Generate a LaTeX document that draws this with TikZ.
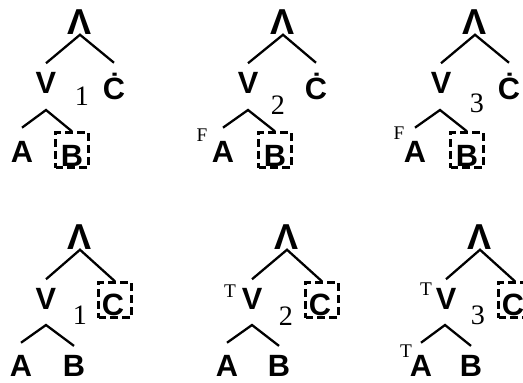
\documentclass[tikz,border=0pt]{standalone}
\usepackage{fontspec}
\setmainfont{Liberation Serif}
\newfontfamily\arialfont{Liberation Sans}
\begin{document}
\begin{tikzpicture}[
        x=0.02cm, y=-0.02cm,
        opnode/.style={
            font=\arialfont\bfseries\fontsize{20.5}{22}\selectfont,
            inner sep=0pt
        },
        letter/.style={
            font=\arialfont\bfseries\fontsize{17.5}{19}\selectfont,
            inner xsep=0pt,
            inner ysep=#1,
            text height=12.5pt,
            text depth=0pt
        },
        letter/.default=4.8pt,
        hole/.style={
            draw,
            line width=1.3pt,
            dash pattern=on 4.5pt off 2.3pt,
            minimum width=0.66cm,
            minimum height=0.7cm,
            inner sep=0pt
        },
        stepnum/.style={font=\fontsize{16}{18}\selectfont, inner sep=0pt},
        truth/.style={font=\fontsize{11}{12}\selectfont, inner sep=0pt},
        line/.style={draw, line width=1.3pt}
    ]
        \useasboundingbox (0,0) rectangle (523,382);

        \node[opnode] (and1) at (80,22) {Λ};
        \node[letter] (or1) at (46,83) {V};
        \node[letter=8.5pt] (c1) at (114,89) {Ċ};
        \node[stepnum] (n1) at (82,96) {1};
        \coordinate (j1) at (46,110);
        \node[letter=7.4pt] (a1) at (22,152) {A};
        \node[hole] (box1) at (72,150) {};
        \node[letter] (b1) at (72,156) {B};
        \draw[line] (or1.north) -- (and1.south) -- (c1.north);
        \draw[line] (a1.north) -- (j1) -- (box1.north);

        \node[opnode] (and2) at (283,22) {Λ};
        \node[letter] (or2) at (248,83) {V};
        \node[letter=8.5pt] (c2) at (316,89) {Ċ};
        \node[stepnum] (n2) at (278,105) {2};
        \node[truth] (f2) at (202,135) {F};
        \coordinate (j2) at (248,110);
        \node[letter=7.4pt] (a2) at (223,152) {A};
        \node[hole] (box2) at (275,150) {};
        \node[letter] (b2) at (275,156) {B};
        \draw[line] (or2.north) -- (and2.south) -- (c2.north);
        \draw[line] (a2.north) -- (j2) -- (box2.north);

        \node[opnode] (and3) at (475,22) {Λ};
        \node[letter] (or3) at (441,83) {V};
        \node[letter=8.5pt] (c3) at (509,89) {Ċ};
        \node[stepnum] (n3) at (477,103) {3};
        \node[truth] (f3) at (399,133) {F};
        \coordinate (j3) at (440,110);
        \node[letter=7.4pt] (a3) at (415,152) {A};
        \node[hole] (box3) at (467,150) {};
        \node[letter] (b3) at (467,156) {B};
        \draw[line] (or3.north) -- (and3.south) -- (c3.north);
        \draw[line] (a3.north) -- (j3) -- (box3.north);

        \node[opnode] (and4) at (80,237) {Λ};
        \node[letter] (or4) at (46,299) {V};
        \node[hole] (box4) at (115,300) {};
        \node[letter] (c4) at (113,305) {C};
        \node[stepnum] (n4) at (80,315) {1};
        \coordinate (j4) at (46,325);
        \node[letter=6.8pt] (a4) at (21,366) {A};
        \node[letter=5pt] (b4) at (74,366) {B};
        \draw[line] (or4.north) -- (and4.south) -- (box4.north);
        \draw[line] (a4.north) -- (j4) -- (b4.north);

        \node[opnode] (and5) at (287,237) {Λ};
        \node[truth] (t5) at (230,291) {T};
        \node[letter] (or5) at (252,299) {V};
        \node[hole] (box5) at (322,300) {};
        \node[letter] (c5) at (320,305) {C};
        \node[stepnum] (n5) at (286,316) {2};
        \coordinate (j5) at (252,325);
        \node[letter=6.8pt] (a5) at (227,366) {A};
        \node[letter=5pt] (b5) at (279,366) {B};
        \draw[line] (or5.north) -- (and5.south) -- (box5.north);
        \draw[line] (a5.north) -- (j5) -- (b5.north);

        \node[opnode] (and6) at (480,237) {Λ};
        \node[truth] (t6) at (426,289) {T};
        \node[letter] (or6) at (446,299) {V};
        \node[hole] (box6) at (515,300) {};
        \node[letter] (c6) at (513,305) {C};
        \node[stepnum] (n6) at (478,315) {3};
        \coordinate (j6) at (445,325);
        \node[truth] (ta6) at (406,351) {T};
        \node[letter=6.8pt] (a6) at (421,366) {A};
        \node[letter=5pt] (b6) at (471,366) {B};
        \draw[line] (or6.north) -- (and6.south) -- (box6.north);
        \draw[line] (a6.north) -- (j6) -- (b6.north);
    \end{tikzpicture}
\end{document}
